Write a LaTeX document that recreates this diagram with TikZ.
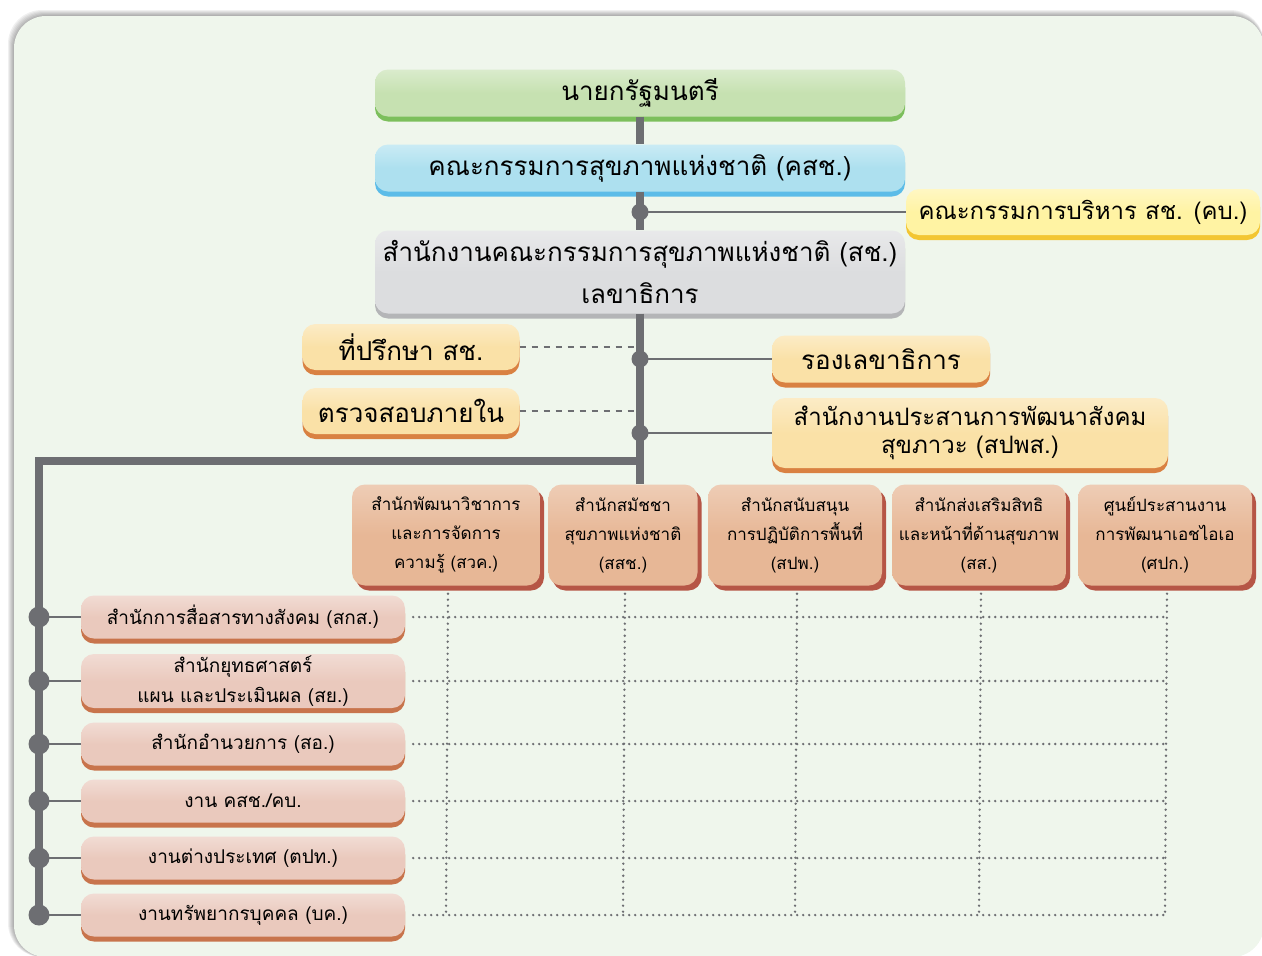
\documentclass[tikz,border=0pt]{standalone}
\usepackage{fontspec}
\newfontfamily\thai[Script=Thai]{Loma}
\usepackage{tikz}
\usetikzlibrary{shadows,calc}

\definecolor{paper}{HTML}{EFF6EC}
\definecolor{linegray}{HTML}{6D6E72}
\definecolor{pmfill}{HTML}{C6E1B1}
\definecolor{pmrim}{HTML}{7CBF5C}
\definecolor{nhcfill}{HTML}{ADE0EF}
\definecolor{nhcrim}{HTML}{5CBCE8}
\definecolor{kbfill}{HTML}{FFF3A3}
\definecolor{kbrim}{HTML}{F3C632}
\definecolor{sofill}{HTML}{DCDDDF}
\definecolor{sorim}{HTML}{B4B5B7}
\definecolor{creamfill}{HTML}{FAE1A7}
\definecolor{creamrim}{HTML}{D98142}
\definecolor{peachfill}{HTML}{E7B796}
\definecolor{peachrim}{HTML}{B65646}
\definecolor{pinkfill}{HTML}{EAC9BD}
\definecolor{pinkrim}{HTML}{C8744C}

\tikzset{
  orgbox/.style 2 args={rounded corners=13pt, align=center, inner sep=0pt,
    top color=#1!65!white, bottom color=#1, middle color=#1,
    general shadow={fill=#2, shadow yshift=-5pt}},
  secbox/.style={rounded corners=13pt, align=center, inner sep=0pt,
    top color=peachfill!70!white, bottom color=peachfill, middle color=peachfill,
    general shadow={fill=peachrim, shadow xshift=4pt, shadow yshift=-5pt},
    minimum height=101, font=\thai\fontsize{17}{29}\selectfont},
  unitbox/.style={orgbox={pinkfill}{pinkrim}, minimum width=324,
    font=\thai\fontsize{19}{30}\selectfont},
  trunk/.style={draw=linegray, line width=8pt},
  branch/.style={draw=linegray, line width=2.5pt},
  link/.style={draw=linegray, line width=1.5pt, dash pattern=on 6pt off 6pt},
  grid/.style={draw=linegray, line width=2.6pt, line cap=round, dash pattern=on 0pt off 6pt},
}

\begin{document}
\begin{tikzpicture}[x=1pt, y=-1pt]

\useasboundingbox (0,0) rectangle (1262,956);

% --- background panel with a soft shadow top and left ---
\foreach \k in {1,...,6}
  \fill[black, opacity=0.06, rounded corners=34pt] ($(14,16)-(\k,\k)$) rectangle (1264,957);
\fill[paper, rounded corners=32pt] (14,16) rectangle (1264,957);

% ------------------ top of the chart ------------------
\node[orgbox={pmfill}{pmrim}, minimum width=530, minimum height=47,
  font=\thai\fontsize{26}{30}\selectfont] (pm) at (640,93) {นายกรัฐมนตรี};
\node[orgbox={nhcfill}{nhcrim}, minimum width=530, minimum height=47,
  font=\thai\fontsize{26}{30}\selectfont] (nhc) at (640,168) {คณะกรรมการสุขภาพแห่งชาติ (คสช.)};
\node[orgbox={kbfill}{kbrim}, minimum width=354, minimum height=46,
  font=\thai\fontsize{24}{28}\selectfont] (kb) at (1083,212) {คณะกรรมการบริหาร สช. (คบ.)};
\node[orgbox={sofill}{sorim}, minimum width=530, minimum height=83,
  font=\thai\fontsize{26}{42}\selectfont] (nhco) at (640,272)
  {สำนักงานคณะกรรมการสุขภาพแห่งชาติ (สช.)\\เลขาธิการ};

% side offices
\node[orgbox={creamfill}{creamrim}, minimum width=217, minimum height=46,
  font=\thai\fontsize{26}{30}\selectfont] (adv) at (411,347) {ที่ปรึกษา สช.};
\node[orgbox={creamfill}{creamrim}, minimum width=217, minimum height=46,
  font=\thai\fontsize{26}{30}\selectfont] (audit) at (411,411) {ตรวจสอบภายใน};
\node[orgbox={creamfill}{creamrim}, minimum width=218, minimum height=47,
  font=\thai\fontsize{26}{30}\selectfont] (dep) at (881,359) {รองเลขาธิการ};
\node[orgbox={creamfill}{creamrim}, minimum width=396, minimum height=70,
  font=\thai\fontsize{24}{28}\selectfont] (spps) at (970,433)
  {สำนักงานประสานการพัฒนาสังคม\\สุขภาวะ (สปพส.)};

% ------------------ offices (row) ------------------
\node[secbox, minimum width=188] (s1) at (446,535) {สำนักพัฒนาวิชาการ\\และการจัดการ\\ความรู้ (สวค.)};
\node[secbox, minimum width=149] (s2) at (623,535) {สำนักสมัชชา\\สุขภาพแห่งชาติ\\(สสช.)};
\node[secbox, minimum width=174] (s3) at (795,535) {สำนักสนับสนุน\\การปฏิบัติการพื้นที่\\(สปพ.)};
\node[secbox, minimum width=174] (s4) at (979,535) {สำนักส่งเสริมสิทธิ\\และหน้าที่ด้านสุขภาพ\\(สส.)};
\node[secbox, minimum width=174] (s5) at (1165,535) {ศูนย์ประสานงาน\\การพัฒนาเอชไอเอ\\(ศปก.)};

% ------------------ offices (column) ------------------
\node[unitbox, minimum height=43] (l1) at (243,617) {สำนักการสื่อสารทางสังคม (สกส.)};
\node[unitbox, minimum height=54] (l2) at (243,681) {สำนักยุทธศาสตร์\\แผน และประเมินผล (สย.)};
\node[unitbox, minimum height=43] (l3) at (243,744) {สำนักอำนวยการ (สอ.)};
\node[unitbox, minimum height=43] (l4) at (243,801) {งาน คสช./คบ.};
\node[unitbox, minimum height=43] (l5) at (243,858) {งานต่างประเทศ (ตปท.)};
\node[unitbox, minimum height=43] (l6) at (243,915) {งานทรัพยากรบุคคล (บค.)};

% dotted grid between the row and the column
\foreach \i in {1,...,5}
  \draw[grid] ($(s\i.south)+(2,8)$) -- (s\i.south |- l6.east);
\foreach \j in {1,...,6}
  \draw[grid] ($(l\j.east)+(8,0)$) -- (l\j.east -| s5.south);

% ------------------ connectors ------------------
% main trunk
\draw[trunk] (pm.south) -- (nhc.north);
\draw[trunk] (nhc.south) -- (nhco.north);
\draw[trunk] (nhco.south) -- (nhco.south |- s2.north);

% committee and deputy branches
\coordinate (jkb) at (kb.west -| nhco.south);
\coordinate (jdep) at (dep.west -| nhco.south);
\coordinate (jspps) at (spps.west -| nhco.south);
\foreach \c/\b in {jkb/kb, jdep/dep, jspps/spps} {
  \draw[branch] (\c) -- (\b.west);
  \fill[linegray] (\c) circle (8.5);
}

% advisory lines
\draw[link] (adv.east) -- (adv.east -| nhco.south);
\draw[link] (audit.east) -- (audit.east -| nhco.south);

% left bus
\coordinate (busT) at (640,461);
\coordinate (busL) at (39,461);
\draw[trunk, line join=miter] (busT) -- (busL) -- (busL |- l6.west);
\foreach \j in {1,...,6} {
  \draw[branch] (busL |- l\j.west) -- (l\j.west);
  \fill[linegray] (busL |- l\j.west) circle (10.5);
}

\end{tikzpicture}
\end{document}
